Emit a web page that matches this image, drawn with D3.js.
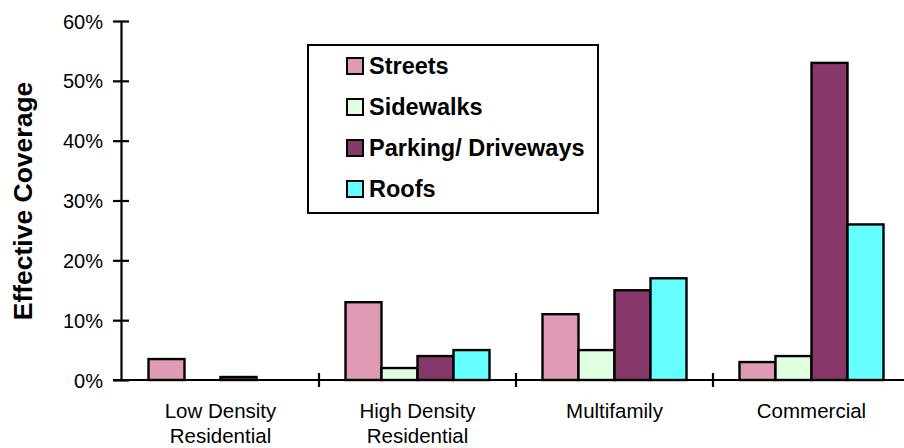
<!DOCTYPE html>
<html>
<head>
<meta charset="utf-8">
<script src="https://cdn.jsdelivr.net/npm/d3@7"></script>
<style>
  html, body { margin: 0; padding: 0; background: #fff; }
  svg { display: block; }
</style>
</head>
<body>
<svg id="chart" width="904" height="448"></svg>
<script>
const categories = [["Low Density", "Residential"], ["High Density", "Residential"], ["Multifamily"], ["Commercial"]];
const seriesNames = ["Streets", "Sidewalks", "Parking/ Driveways", "Roofs"];
const seriesColors = ["#df9bb5", "#e0ffe0", "#873868", "#66ffff"];
const streets = [3.5, 13, 11, 3];
const sidewalks = [0, 2, 5, 4];
const parking = [0.5, 4, 15, 53];
const roofs = [0, 5, 17, 26];
const yTicks = [0, 10, 20, 30, 40, 50, 60];
const yTitle = "Effective Coverage";

const seriesValues = [streets, sidewalks, parking, roofs];
const catKeys = categories.map(c => c.join(" "));

const svg = d3.select("#chart");
const font = "Arial, 'Liberation Sans', sans-serif";

const x0 = d3.scaleBand().domain(catKeys).range([122, 910]).padding(0);
const x1 = d3.scaleBand().domain(seriesNames).range([0, x0.bandwidth()]).paddingInner(0).paddingOuter(0.736);
const y = d3.scaleLinear().domain([0, 60]).range([380, 21]);

// bars
const groups = svg.append("g").selectAll("g")
  .data(catKeys).join("g")
  .attr("transform", d => `translate(${x0(d)},0)`);

groups.selectAll("rect")
  .data((d, i) => seriesNames.map((s, j) => ({ s, j, v: seriesValues[j][i] })))
  .join("rect")
  .filter(d => d.v > 0)
  .attr("x", d => x1(d.s))
  .attr("y", d => y(d.v))
  .attr("width", x1.bandwidth())
  .attr("height", d => y(0) - y(d.v))
  .attr("fill", d => seriesColors[d.j])
  .attr("stroke", "#000")
  .attr("stroke-width", 2.4);

// y axis
const yAxis = svg.append("g").attr("transform", "translate(121,0)")
  .call(d3.axisLeft(y).tickValues(yTicks).tickFormat(d => d + "%").tickSize(8).tickSizeOuter(0));
yAxis.select(".domain").attr("stroke", "#000").attr("stroke-width", 2.2);
yAxis.selectAll(".tick line").attr("x2", 8).attr("x1", -8).attr("stroke", "#000").attr("stroke-width", 2.2);
yAxis.selectAll(".tick text").attr("x", -18).attr("dy", "0.35em")
  .attr("font-family", font).attr("font-size", 20).attr("fill", "#000");

// x axis
const xAxis = svg.append("g").attr("transform", "translate(0,380)");
xAxis.append("line").attr("x1", 113).attr("x2", 904).attr("y1", 0).attr("y2", 0)
  .attr("stroke", "#000").attr("stroke-width", 2.2);
const bounds = catKeys.map(k => x0(k)).concat([x0.range()[1]]);
xAxis.selectAll("line.tk").data(bounds.slice(1)).join("line").attr("class", "tk")
  .attr("x1", d => d).attr("x2", d => d).attr("y1", -7).attr("y2", 7)
  .attr("stroke", "#000").attr("stroke-width", 2.2);

const labels = svg.append("g").selectAll("text").data(categories).join("text")
  .attr("font-family", font).attr("font-size", 20.5).attr("fill", "#000")
  .attr("text-anchor", "middle");
labels.each(function(d, i) {
  const cx = x0(catKeys[i]) + x0.bandwidth() / 2;
  d3.select(this).selectAll("tspan").data(d).join("tspan")
    .attr("x", cx).attr("y", (t, k) => 418 + k * 25).text(t => t);
});

// y title
svg.append("text")
  .attr("transform", "translate(32,201) rotate(-90)")
  .attr("text-anchor", "middle")
  .attr("font-family", font).attr("font-weight", "bold").attr("font-size", 26.5)
  .attr("fill", "#000").text(yTitle);

// legend
const lg = svg.append("g");
lg.append("rect").attr("x", 308).attr("y", 45).attr("width", 290).attr("height", 168)
  .attr("fill", "#fff").attr("stroke", "#000").attr("stroke-width", 2);
const items = lg.selectAll("g.item").data(seriesNames).join("g").attr("class", "item")
  .attr("transform", (d, i) => `translate(347,${58 + i * 41})`);
items.append("rect").attr("width", 16).attr("height", 16)
  .attr("fill", (d, i) => seriesColors[i]).attr("stroke", "#000").attr("stroke-width", 2);
items.append("text").attr("x", 22).attr("y", 16)
  .attr("font-family", font).attr("font-weight", "bold").attr("font-size", 23.5)
  .attr("fill", "#000").text(d => d);
</script>
</body>
</html>
